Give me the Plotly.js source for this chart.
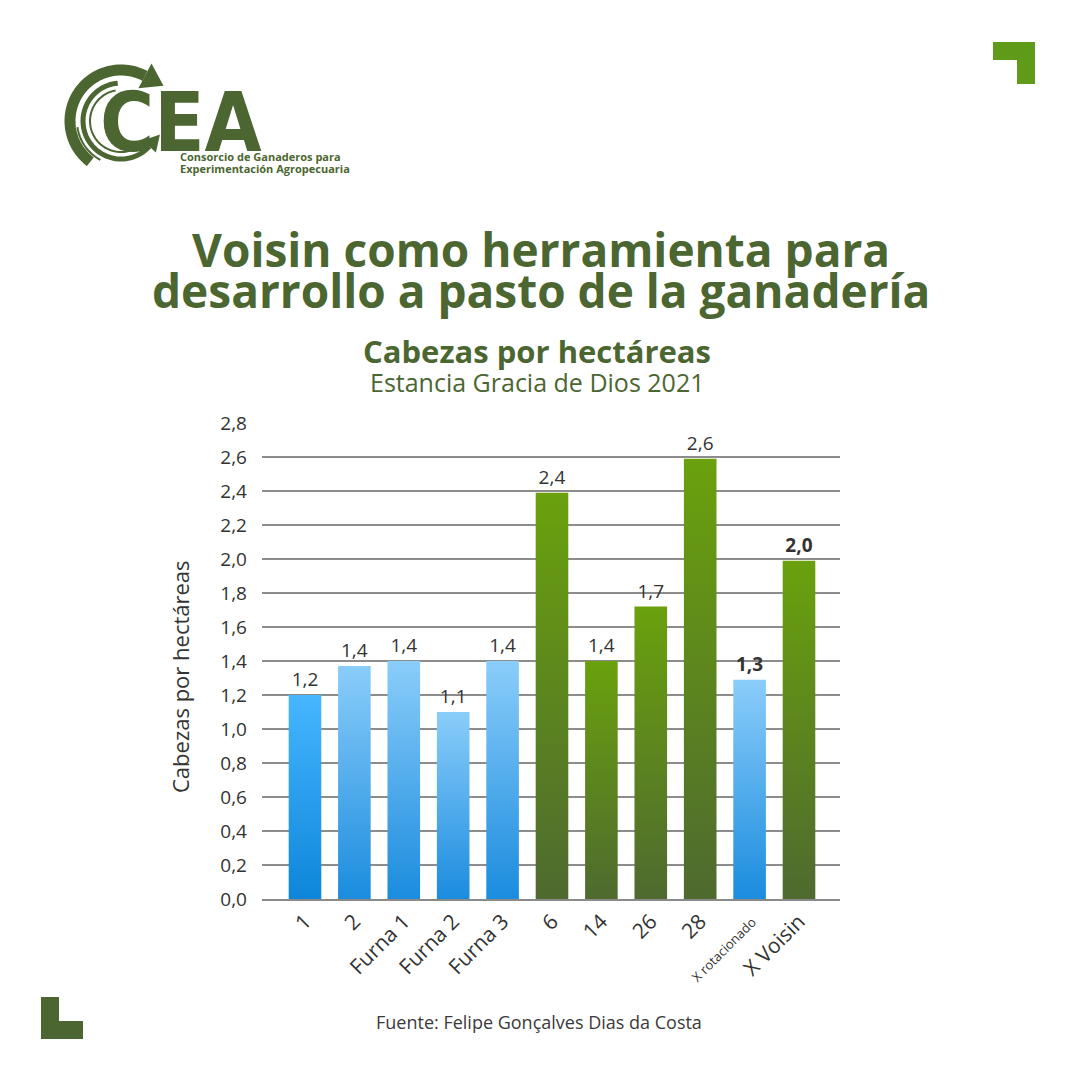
<!DOCTYPE html>
<html>
<head>
<meta charset="utf-8">
<script src="https://cdn.plot.ly/plotly-3.0.1.min.js"></script>
<style>
  html, body { margin: 0; padding: 0; background: #ffffff; }
  #chart { width: 1080px; height: 1080px; }
</style>
</head>
<body>
<div id="chart"></div>
<script>
// Paddocks / groups on the x axis
const categories = ['1', '2', 'Furna 1', 'Furna 2', 'Furna 3', '6', '14', '26', '28', 'X rotacionado', 'X Voisin'];
// Stocking rate, heads per hectare
const headsPerHectare = [1.2, 1.37, 1.4, 1.1, 1.4, 2.39, 1.4, 1.72, 2.59, 1.29, 1.99];
// Grazing system of each bar
const grazingSystem = ['rotativo', 'rotativo', 'rotativo', 'rotativo', 'rotativo', 'voisin', 'voisin', 'voisin', 'voisin', 'rotativo', 'voisin'];
// Bars that are averages of a system
const averageBars = ['X rotacionado', 'X Voisin'];
// Y axis ticks
const yTicks = [0, 0.2, 0.4, 0.6, 0.8, 1.0, 1.2, 1.4, 1.6, 1.8, 2.0, 2.2, 2.4, 2.6, 2.8];

const TITLE_LINES = ['Voisin como herramienta para', 'desarrollo a pasto de la ganadería'];
const SUBTITLE = 'Cabezas por hectáreas';
const SUBTITLE2 = 'Estancia Gracia de Dios 2021';
const Y_TITLE = 'Cabezas por hectáreas';
const SOURCE = 'Fuente: Felipe Gonçalves Dias da Costa';
const LOGO = 'CEA';
const LOGO_LINES = ['Consorcio de Ganaderos para', 'Experimentación Agropecuaria'];

const GREEN_DARK = '#4b6630';
const GREEN_BRIGHT = '#5f9a19';
const TEXT = '#333333';
const FONT = 'Open Sans, Noto Sans, sans-serif';

// plot area in page pixels
const L = 262, R = 840, T = 423, B = 899;
const px = x => (x - L) / (R - L);
const py = y => (B - y) / (B - T);

// gradient per bar: [top, bottom]
const gradients = grazingSystem.map((g, i) => {
  if (g === 'voisin') return ['#6aa10d', '#4e6a2f'];
  if (i === 0) return ['#46b6ff', '#0d86d9'];
  return ['#8acdfa', '#1b8cde'];
});

const tickText = categories.map(c => c === 'X rotacionado' ? '<span style="font-size:13px">' + c + '</span>' : c);
const textTemplates = categories.map(c => averageBars.includes(c) ? '<b>%{y:.1f}</b>' : '%{y:.1f}');

// ---- logo geometry helpers (page pixels -> paper) ----
function arcPath(cx, cy, r, a0, a1, n) {
  let d = '';
  for (let k = 0; k <= n; k++) {
    const a = (a0 + (a1 - a0) * k / n) * Math.PI / 180;
    const x = cx + r * Math.cos(a), y = cy - r * Math.sin(a);
    d += (k === 0 ? 'M' : 'L') + px(x).toFixed(5) + ',' + py(y).toFixed(5);
  }
  return d;
}
function arrowHead(cx, cy, r, a, dir, len, half) {
  const ar = a * Math.PI / 180;
  const x = cx + r * Math.cos(ar), y = cy - r * Math.sin(ar);
  const tx = -Math.sin(ar) * dir, ty = -Math.cos(ar) * dir;
  const nx = Math.cos(ar), ny = -Math.sin(ar);
  const pts = [
    [x + tx * len, y + ty * len],
    [x + nx * half, y + ny * half],
    [x - nx * half, y - ny * half]
  ];
  return 'M' + pts.map(p => px(p[0]).toFixed(5) + ',' + py(p[1]).toFixed(5)).join('L') + 'Z';
}
function rectPath(pts) {
  return 'M' + pts.map(p => px(p[0]).toFixed(5) + ',' + py(p[1]).toFixed(5)).join('L') + 'Z';
}

const LCX = 121, LCY = 121;
const P = { xref: 'paper', yref: 'paper' };
const shapes = [
  // logo rings
  Object.assign({ type: 'path', path: arcPath(LCX, LCY, 51, 233, 62, 60), line: { color: GREEN_DARK, width: 11 } }, P),
  Object.assign({ type: 'path', path: arrowHead(LCX, LCY, 51, 62, -1, 21, 14), fillcolor: GREEN_DARK, line: { width: 0 } }, P),
  Object.assign({ type: 'path', path: arcPath(LCX, LCY, 44, 188, 242, 20), line: { color: GREEN_DARK, width: 2 } }, P),
  Object.assign({ type: 'path', path: arcPath(LCX, LCY, 38, 95, 318, 60), line: { color: GREEN_DARK, width: 5 } }, P),
  Object.assign({ type: 'path', path: arrowHead(LCX, LCY, 38, 318, 1, 16, 9), fillcolor: GREEN_DARK, line: { width: 0 } }, P),
  Object.assign({ type: 'path', path: arcPath(LCX, LCY, 31, 100, 290, 50), line: { color: GREEN_DARK, width: 2 } }, P),
  // corner marks
  Object.assign({ type: 'path', path: rectPath([[993, 42], [1035, 42], [1035, 84], [1017, 84], [1017, 60], [993, 60]]), fillcolor: GREEN_BRIGHT, line: { width: 0 } }, P),
  Object.assign({ type: 'path', path: rectPath([[41, 997], [59, 997], [59, 1021], [83, 1021], [83, 1039], [41, 1039]]), fillcolor: GREEN_DARK, line: { width: 0 } }, P)
];

function note(text, x, y, xanchor, font, angle) {
  const a = { text: text, xref: 'paper', yref: 'paper', x: px(x), y: py(y), xanchor: xanchor, yanchor: 'middle', showarrow: false, font: font };
  if (angle) a.textangle = angle;
  return a;
}

const annotations = [
  note('<b>' + LOGO + '</b>', 98, 122, 'left', { family: 'Liberation Sans Narrow, DejaVu Sans Condensed, Liberation Sans, sans-serif', size: 82, color: GREEN_DARK }),
  note('<b>' + LOGO_LINES[0] + '</b>', 178, 156, 'left', { family: FONT, size: 11, color: GREEN_DARK }),
  note('<b>' + LOGO_LINES[1] + '</b>', 178, 169, 'left', { family: FONT, size: 11, color: GREEN_DARK }),
  note('<b>' + TITLE_LINES[0] + '</b>', 541, 249, 'center', { family: FONT, size: 46, color: GREEN_DARK, weight: 800 }),
  note('<b>' + TITLE_LINES[1] + '</b>', 541, 290, 'center', { family: FONT, size: 46, color: GREEN_DARK, weight: 800 }),
  note('<b>' + SUBTITLE + '</b>', 537, 351, 'center', { family: FONT, size: 31, color: GREEN_DARK }),
  note(SUBTITLE2, 537, 382, 'center', { family: FONT, size: 25, color: GREEN_DARK }),
  note(Y_TITLE, 180, 677, 'center', { family: FONT, size: 22, color: TEXT }, -90),
  note(SOURCE, 539, 1022, 'center', { family: FONT, size: 18, color: '#3a3a3a' })
];

const trace = {
  type: 'bar',
  x: categories,
  y: headsPerHectare,
  marker: { color: gradients.map(g => g[0]), line: { width: 0 } },
  width: 0.66,
  texttemplate: textTemplates,
  textposition: 'outside',
  cliponaxis: false,
  textfont: { family: FONT, size: 19, color: TEXT },
  hoverinfo: 'x+y'
};

const layout = {
  width: 1080,
  height: 1080,
  margin: { l: L, r: 1080 - R, t: T, b: 1080 - B, pad: 0 },
  paper_bgcolor: '#ffffff',
  plot_bgcolor: '#ffffff',
  separators: ',.',
  showlegend: false,
  font: { family: FONT, color: TEXT },
  xaxis: {
    type: 'category',
    range: [-0.87, 10.83],
    tickmode: 'array',
    tickvals: categories,
    ticktext: tickText,
    tickangle: -45,
    tickfont: { family: FONT, size: 21, color: TEXT },
    showline: true,
    linecolor: '#8a8a8a',
    linewidth: 2,
    showgrid: false,
    ticks: '',
    fixedrange: true
  },
  yaxis: {
    range: [0, 2.8],
    tickmode: 'array',
    tickvals: yTicks,
    tickformat: '.1f',
    tickfont: { family: FONT, size: 19, color: TEXT },
    ticklabelstandoff: 14,
    showgrid: true,
    gridcolor: '#8c8c8c',
    gridwidth: 1.2,
    zeroline: false,
    showline: false,
    ticks: '',
    fixedrange: true
  },
  shapes: shapes,
  annotations: annotations
};

const gd = document.getElementById('chart');
Plotly.newPlot(gd, [trace], layout, { displayModeBar: false, staticPlot: true }).then(() => {
  // vertical colour gradients on the bars
  const svgNS = 'http://www.w3.org/2000/svg';
  const defs = gd.querySelector('svg.main-svg defs');
  gradients.forEach((g, i) => {
    const lg = document.createElementNS(svgNS, 'linearGradient');
    lg.setAttribute('id', 'bargrad' + i);
    lg.setAttribute('x1', '0'); lg.setAttribute('y1', '0');
    lg.setAttribute('x2', '0'); lg.setAttribute('y2', '1');
    [[0, g[0]], [1, g[1]]].forEach(([o, c]) => {
      const s = document.createElementNS(svgNS, 'stop');
      s.setAttribute('offset', String(o));
      s.setAttribute('stop-color', c);
      lg.appendChild(s);
    });
    defs.appendChild(lg);
  });
  gd.querySelectorAll('.barlayer .point path').forEach((p, i) => {
    p.style.fill = 'url(#bargrad' + i + ')';
  });
});
</script>
</body>
</html>
